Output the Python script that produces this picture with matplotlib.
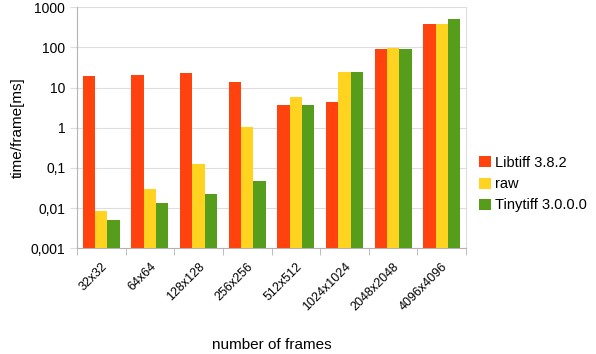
import matplotlib
matplotlib.use("Agg")
import matplotlib.pyplot as plt
import numpy as np

plt.rcParams["font.family"] = ["Liberation Sans", "DejaVu Sans"]

sizes = ["32x32", "64x64", "128x128", "256x256", "512x512",
         "1024x1024", "2048x2048", "4096x4096"]
libtiff = [19.5, 21.0, 22.8, 14.1, 3.8, 4.5, 91.0, 390.0]
raw = [0.0084, 0.030, 0.126, 1.06, 5.9, 24.0, 95.0, 390.0]
tinytiff = [0.0051, 0.0133, 0.023, 0.047, 3.6, 24.0, 94.0, 520.0]

series = [("Libtiff 3.8.2", libtiff, "#ff420e"),
          ("raw", raw, "#ffd320"),
          ("Tinytiff 3.0.0.0", tinytiff, "#579d1c")]

yticks = [0.001, 0.01, 0.1, 1, 10, 100, 1000]
ytick_labels = ["0,001", "0,01", "0,1", "1", "10", "100", "1000"]

fig = plt.figure(figsize=(5.96, 3.54), dpi=100)
ax = fig.add_axes([0.1292, 0.2986, 0.6527, 0.6807])

x = np.arange(len(sizes))
w = 0.253
for i, (name, vals, col) in enumerate(series):
    ax.bar(x + (i - 1) * w, vals, width=w, color=col, label=name, zorder=3)

ax.set_yscale("log")
ax.set_ylim(0.001, 1000)
ax.set_xlim(-0.5, len(sizes) - 0.5)
ax.yaxis.set_major_locator(matplotlib.ticker.FixedLocator(yticks))
ax.yaxis.set_major_formatter(matplotlib.ticker.FixedFormatter(ytick_labels))
ax.yaxis.set_minor_locator(matplotlib.ticker.NullLocator())
ax.grid(axis="y", color="#dddddd", linewidth=0.8, zorder=0)

ax.set_xticks(x)
ax.set_xticklabels(sizes, rotation=45, ha="right", rotation_mode="anchor", fontsize=9)
ax.set_xticks(np.arange(len(sizes) + 1) - 0.5, minor=True)
ax.tick_params(axis="x", which="major", length=0, pad=9)
ax.tick_params(axis="x", which="minor", length=5, color="#b3b3b3")
ax.tick_params(axis="y", length=5, color="#dddddd", labelsize=10)

for s in ["left", "bottom"]:
    ax.spines[s].set_color("#b3b3b3")
ax.spines["right"].set_color("#dddddd")
ax.spines["top"].set_visible(False)

ax.set_ylabel("time/frame[ms]", fontsize=11)
ax.set_xlabel("number of frames", fontsize=11, labelpad=18)

ax.legend(loc="center left", bbox_to_anchor=(1.0, 0.266), frameon=False,
          fontsize=10.5, handlelength=0.8, handleheight=0.8,
          handletextpad=0.3, labelspacing=0.5)

fig.savefig("out.png", dpi=100)
